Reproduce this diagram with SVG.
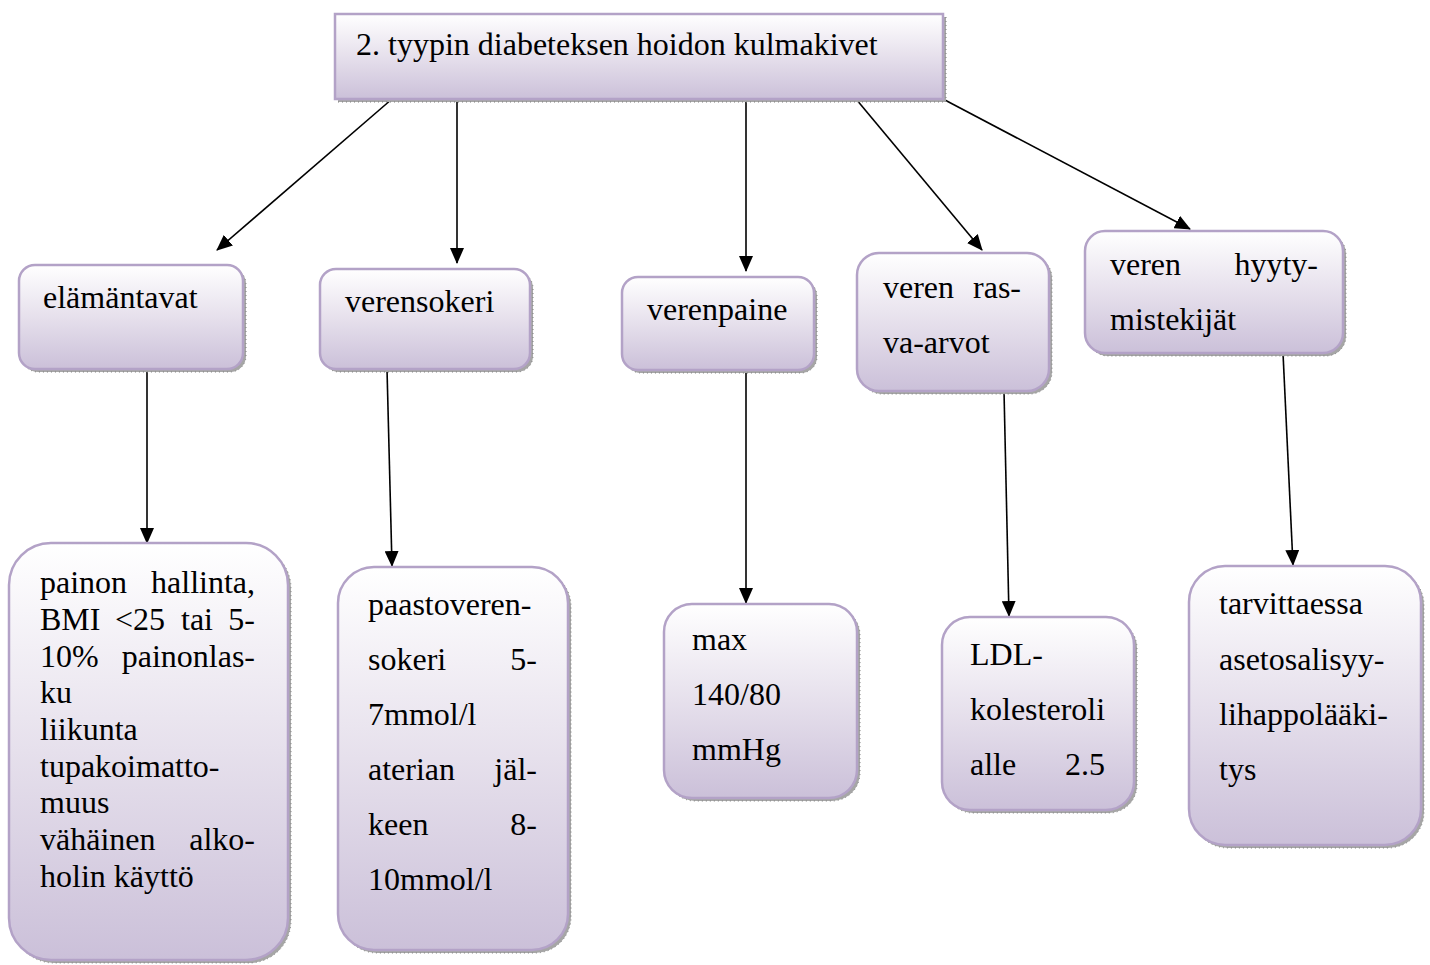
<svg xmlns="http://www.w3.org/2000/svg" width="1430" height="965" viewBox="0 0 1430 965">
<defs>
<linearGradient id="g" x1="0" y1="0" x2="0" y2="1">
<stop offset="0" stop-color="#ffffff"/>
<stop offset="0.5" stop-color="#e6e0ec"/>
<stop offset="1" stop-color="#cbc0d9"/>
</linearGradient>
<marker id="ah" markerWidth="16" markerHeight="14" refX="15" refY="7" orient="auto" markerUnits="userSpaceOnUse">
<path d="M0,0 L16,7 L0,14 Z" fill="#000"/>
</marker>
</defs>
<style>
.sh{fill:#a6a6a6;stroke:#7f7f7f;stroke-width:1;stroke-dasharray:1 3}
.bx{fill:url(#g);stroke:#b3a2c7;stroke-width:2.5}
.t{font-family:"Liberation Serif","Times New Roman",serif;font-size:32px;fill:#000}
.e{text-anchor:end}
.c{stroke:#000;stroke-width:1.6;fill:none;marker-end:url(#ah)}
</style>
<rect width="1430" height="965" fill="#fff"/>
<g id="connectors">
<line class="c" x1="392" y1="99" x2="217" y2="250"/>
<line class="c" x1="457" y1="99" x2="457" y2="263"/>
<line class="c" x1="746" y1="99" x2="746" y2="271"/>
<line class="c" x1="856" y1="99" x2="982" y2="250"/>
<line class="c" x1="943" y1="99" x2="1190" y2="229"/>
<line class="c" x1="147" y1="369" x2="147" y2="543"/>
<line class="c" x1="387" y1="369" x2="392" y2="566"/>
<line class="c" x1="746" y1="370" x2="746" y2="603"/>
<line class="c" x1="1004" y1="391" x2="1009" y2="616"/>
<line class="c" x1="1283" y1="353" x2="1293" y2="565"/>
</g>
<g id="root">
<rect class="sh" x="338" y="17" width="608" height="85"/>
<rect class="bx" x="335" y="14" width="608" height="85"/>
<text class="t" x="356" y="55">2. tyypin diabeteksen hoidon kulmakivet</text>
</g>
<g id="elamantavat">
<rect class="sh" x="22" y="268" width="224" height="104" rx="16"/>
<rect class="bx" x="19" y="265" width="224" height="104" rx="16"/>
<text class="t" x="43" y="308">elämäntavat</text>
</g>
<g id="verensokeri">
<rect class="sh" x="323" y="272" width="210" height="100" rx="16"/>
<rect class="bx" x="320" y="269" width="210" height="100" rx="16"/>
<text class="t" x="345" y="312">verensokeri</text>
</g>
<g id="verenpaine">
<rect class="sh" x="625" y="280" width="192" height="93" rx="16"/>
<rect class="bx" x="622" y="277" width="192" height="93" rx="16"/>
<text class="t" x="647" y="320">verenpaine</text>
</g>
<g id="rasva">
<rect class="sh" x="860" y="256" width="192" height="138" rx="22"/>
<rect class="bx" x="857" y="253" width="192" height="138" rx="22"/>
<text class="t" x="883" y="298">veren</text>
<text class="t e" x="1021" y="298">ras-</text>
<text class="t" x="883" y="353">va-arvot</text>
</g>
<g id="hyytyminen">
<rect class="sh" x="1088" y="234" width="258" height="122" rx="20"/>
<rect class="bx" x="1085" y="231" width="258" height="122" rx="20"/>
<text class="t" x="1110" y="275">veren</text>
<text class="t e" x="1318" y="275">hyyty-</text>
<text class="t" x="1110" y="330">mistekijät</text>
</g>
<g id="painon">
<rect class="sh" x="12" y="546" width="279" height="417" rx="42"/>
<rect class="bx" x="9" y="543" width="279" height="417" rx="42"/>
<text class="t" x="40" y="593">painon</text>
<text class="t e" x="255" y="593">hallinta,</text>
<text class="t" x="40" y="630">BMI</text>
<text class="t" x="115" y="630">&lt;25</text>
<text class="t" x="181" y="630">tai</text>
<text class="t e" x="255" y="630">5-</text>
<text class="t" x="40" y="667">10%</text>
<text class="t e" x="255" y="667">painonlas-</text>
<text class="t" x="40" y="703">ku</text>
<text class="t" x="40" y="740">liikunta</text>
<text class="t" x="40" y="777">tupakoimatto-</text>
<text class="t" x="40" y="813">muus</text>
<text class="t" x="40" y="850">vähäinen</text>
<text class="t e" x="255" y="850">alko-</text>
<text class="t" x="40" y="887">holin käyttö</text>
</g>
<g id="paasto">
<rect class="sh" x="341" y="570" width="230" height="383" rx="36"/>
<rect class="bx" x="338" y="567" width="230" height="383" rx="36"/>
<text class="t" x="368" y="615">paastoveren-</text>
<text class="t" x="368" y="670">sokeri</text>
<text class="t e" x="537" y="670">5-</text>
<text class="t" x="368" y="725">7mmol/l</text>
<text class="t" x="368" y="780">aterian</text>
<text class="t e" x="537" y="780">jäl-</text>
<text class="t" x="368" y="835">keen</text>
<text class="t e" x="537" y="835">8-</text>
<text class="t" x="368" y="890">10mmol/l</text>
</g>
<g id="max">
<rect class="sh" x="667" y="607" width="193" height="194" rx="28"/>
<rect class="bx" x="664" y="604" width="193" height="194" rx="28"/>
<text class="t" x="692" y="650">max</text>
<text class="t" x="692" y="705">140/80</text>
<text class="t" x="692" y="760">mmHg</text>
</g>
<g id="ldl">
<rect class="sh" x="945" y="620" width="192" height="193" rx="28"/>
<rect class="bx" x="942" y="617" width="192" height="193" rx="28"/>
<text class="t" x="970" y="665">LDL-</text>
<text class="t" x="970" y="720">kolesteroli</text>
<text class="t" x="970" y="775">alle</text>
<text class="t e" x="1105" y="775">2.5</text>
</g>
<g id="asa">
<rect class="sh" x="1192" y="569" width="232" height="279" rx="36"/>
<rect class="bx" x="1189" y="566" width="232" height="279" rx="36"/>
<text class="t" x="1219" y="614">tarvittaessa</text>
<text class="t" x="1219" y="670">asetosalisyy-</text>
<text class="t" x="1219" y="725">lihappolääki-</text>
<text class="t" x="1219" y="780">tys</text>
</g>
</svg>
